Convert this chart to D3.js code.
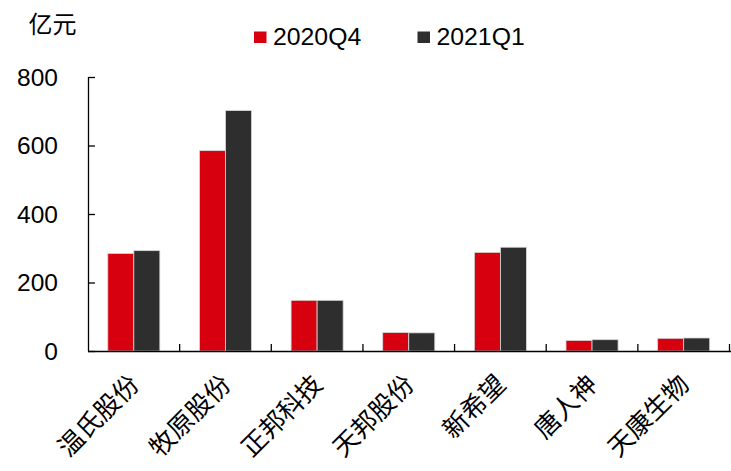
<!DOCTYPE html>
<html>
<head>
<meta charset="utf-8">
<script src="https://cdn.jsdelivr.net/npm/d3@7"></script>
<style>
  html, body { margin: 0; padding: 0; background: #fff; }
  svg { display: block; }
</style>
</head>
<body>
<svg id="chart" width="731" height="471"></svg>
<script>
const categories = ["温氏股份", "牧原股份", "正邦科技", "天邦股份", "新希望", "唐人神", "天康生物"];
const seriesNames = ["2020Q4", "2021Q1"];
const values2020Q4 = [285, 585, 148, 54, 288, 31, 37];
const values2021Q1 = [293, 702, 148, 53, 303, 33, 38];
const yTicks = [0, 200, 400, 600, 800];
const unitLabel = "亿元";
const colors = ["#D7000F", "#2E2E2E"];

(function () {
const seriesValues = [values2020Q4, values2021Q1];
const data = categories.map((c, i) => ({ cat: c, vals: seriesNames.map((s, j) => ({ s, v: seriesValues[j][i] })) }));

const svg = d3.select("#chart");
const mLeft = 88, mRight = 729.5, mTop = 77, mBottom = 351;

const x = d3.scaleBand().domain(categories).range([mLeft, mRight]).paddingInner(0).paddingOuter(0);
const xSub = d3.scaleBand().domain(seriesNames).range([0, x.bandwidth()]).paddingInner(0).paddingOuter(0.76);
const y = d3.scaleLinear().domain([0, 800]).range([mBottom, mTop]);

const numFont = "'Liberation Sans', Arial, sans-serif";
const cjkFont = "'Noto Sans CJK SC', 'Noto Sans', sans-serif";

// bars
const g = svg.append("g");
g.selectAll("g.cat").data(data).join("g")
  .attr("transform", d => `translate(${x(d.cat)},0)`)
  .selectAll("rect").data(d => d.vals).join("rect")
  .attr("x", d => xSub(d.s))
  .attr("y", d => y(d.v))
  .attr("width", xSub.bandwidth())
  .attr("height", d => y(0) - y(d.v))
  .attr("fill", (d, i) => colors[i])
  .attr("stroke", "#d9d9d9")
  .attr("stroke-width", 0.8);

// y axis
const yAxis = svg.append("g").attr("transform", `translate(${mLeft},0)`)
  .call(d3.axisRight(y).tickValues(yTicks).tickSize(7).tickFormat(""));
yAxis.select(".domain").attr("d", `M0.5,${mTop}V${mBottom}`).attr("stroke", "#000").attr("stroke-width", 1.3);
yAxis.selectAll(".tick line").attr("stroke", "#000").attr("stroke-width", 1.3);
svg.append("g").selectAll("text").data(yTicks).join("text")
  .attr("x", 58).attr("y", d => y(d)).attr("dy", "0.36em")
  .attr("text-anchor", "end")
  .attr("font-family", numFont).attr("font-size", 24.5).attr("fill", "#000")
  .text(d => d);

// x axis
const xAxisG = svg.append("g");
xAxisG.append("line").attr("x1", mLeft).attr("x2", 731).attr("y1", mBottom + 0.5).attr("y2", mBottom + 0.5)
  .attr("stroke", "#000").attr("stroke-width", 1.3);
const bounds = categories.map(c => x(c) + x.bandwidth());
xAxisG.selectAll("line.tk").data(bounds).join("line").attr("class", "tk")
  .attr("x1", d => d).attr("x2", d => d).attr("y1", mBottom - 7).attr("y2", mBottom)
  .attr("stroke", "#000").attr("stroke-width", 1.3);

// category labels
svg.append("g").selectAll("text").data(categories).join("text")
  .attr("transform", d => `translate(${x(d) + x.bandwidth() / 2 + 7},${mBottom + 35}) rotate(-45)`)
  .attr("text-anchor", "end")
  .attr("font-family", cjkFont).attr("font-size", 25.5).attr("fill", "#000")
  .text(d => d);

// unit label
svg.append("text").attr("x", 28.5).attr("y", 32.5)
  .attr("font-family", cjkFont).attr("font-size", 24).attr("fill", "#000")
  .text(unitLabel);

// legend
const legendX = [254, 417.5];
const lg = svg.append("g").selectAll("g").data(seriesNames).join("g")
  .attr("transform", (d, i) => `translate(${legendX[i]},0)`);
lg.append("rect").attr("x", 0).attr("y", 31.5).attr("width", 12.5).attr("height", 11.5)
  .attr("fill", (d, i) => colors[i]);
lg.append("text").attr("x", 19).attr("y", 44.5)
  .attr("font-family", numFont).attr("font-size", 24.8).attr("fill", "#000")
  .text(d => d);
})();
</script>
</body>
</html>
